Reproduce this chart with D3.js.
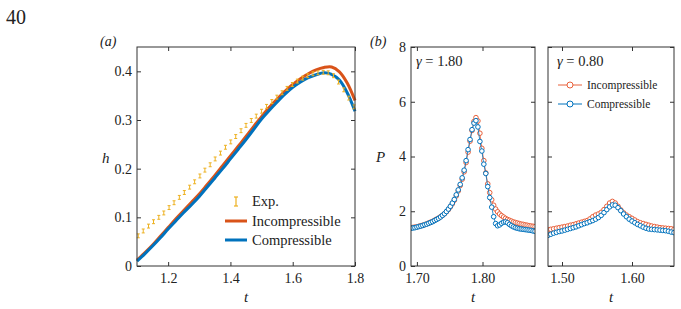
<!DOCTYPE html>
<html>
<head>
<meta charset="utf-8">
<script src="https://cdn.jsdelivr.net/npm/d3@7"></script>
<style>
  body { margin: 0; background: #fff; }
  svg, text { font-family: "Liberation Serif", "DejaVu Serif", serif; }
  text { fill: #222; }
</style>
</head>
<body>
<div id="container"></div>
<script>
let w = 681;
let h = 309;

// ---- panel (a) data: h(t)
let tLine = [1.10,1.125,1.15,1.175,1.20,1.225,1.25,1.275,1.30,1.325,1.35,1.375,1.40,1.425,1.45,1.475,1.50,1.525,1.55,1.575,1.60,1.625,1.65,1.675,1.70,1.725,1.75,1.775,1.80];
let hIncomp = [0.012,0.027,0.043,0.061,0.079,0.097,0.114,0.131,0.148,0.167,0.186,0.206,0.226,0.246,0.266,0.287,0.307,0.326,0.343,0.359,0.373,0.385,0.395,0.403,0.408,0.409,0.399,0.376,0.340];
let hComp = [0.010,0.025,0.041,0.058,0.076,0.093,0.110,0.126,0.143,0.162,0.181,0.200,0.220,0.240,0.260,0.281,0.302,0.320,0.337,0.353,0.367,0.378,0.387,0.393,0.397,0.394,0.382,0.356,0.318];
let tExp = [1.104,1.120,1.137,1.153,1.170,1.186,1.203,1.219,1.236,1.252,1.269,1.285,1.302,1.318,1.335,1.351,1.368,1.384,1.401,1.417,1.434,1.450,1.467,1.483,1.500,1.516,1.533,1.549,1.566,1.582,1.599,1.615,1.632,1.648,1.665,1.681,1.698,1.714,1.731,1.747,1.764,1.780,1.797];
let hExp = [0.062,0.072,0.082,0.091,0.100,0.109,0.120,0.130,0.141,0.151,0.162,0.173,0.185,0.197,0.208,0.220,0.232,0.244,0.255,0.266,0.278,0.289,0.299,0.308,0.318,0.328,0.338,0.347,0.356,0.365,0.373,0.380,0.386,0.391,0.395,0.397,0.398,0.397,0.391,0.378,0.362,0.345,0.327];
let expErr = 0.004;

// ---- panel (b) data: P(t), gamma = 1.80
let tB1 = [1.691,1.694,1.697,1.700,1.703,1.706,1.709,1.712,1.715,1.718,1.721,1.724,1.727,1.730,1.733,1.736,1.739,1.742,1.745,1.748,1.751,1.754,1.757,1.760,1.763,1.766,1.769,1.772,1.775,1.778,1.781,1.784,1.787,1.790,1.793,1.796,1.799,1.802,1.805,1.808,1.811,1.814,1.817,1.820,1.823,1.826,1.829,1.832,1.835,1.838,1.841,1.844,1.847,1.850,1.853,1.856,1.859,1.862,1.865,1.868,1.871,1.874,1.877,1.880];
let pIncompB1 = [1.40,1.41,1.42,1.43,1.45,1.47,1.49,1.51,1.54,1.57,1.60,1.63,1.67,1.71,1.75,1.80,1.85,1.91,1.98,2.06,2.16,2.27,2.40,2.56,2.74,2.94,3.17,3.44,3.78,4.16,4.56,4.95,5.28,5.42,5.30,4.85,4.30,3.85,3.40,3.00,2.68,2.42,2.22,2.08,1.98,1.90,1.84,1.79,1.74,1.70,1.67,1.64,1.61,1.59,1.57,1.55,1.53,1.52,1.50,1.49,1.47,1.46,1.45,1.44];
let pCompB1 = [1.38,1.39,1.40,1.42,1.44,1.46,1.48,1.51,1.53,1.56,1.59,1.62,1.66,1.70,1.74,1.79,1.85,1.91,1.99,2.08,2.18,2.30,2.43,2.60,2.78,2.98,3.22,3.50,3.85,4.25,4.62,4.98,5.22,5.31,5.08,4.55,4.20,3.72,3.38,2.90,2.50,2.15,1.80,1.55,1.47,1.50,1.56,1.60,1.61,1.58,1.52,1.47,1.43,1.40,1.38,1.36,1.35,1.34,1.33,1.32,1.31,1.30,1.28,1.27];

// ---- gamma = 0.80
let tB2 = [1.480,1.484,1.488,1.492,1.496,1.500,1.504,1.508,1.512,1.516,1.520,1.524,1.528,1.532,1.536,1.540,1.544,1.548,1.552,1.556,1.560,1.564,1.568,1.572,1.576,1.580,1.584,1.588,1.592,1.596,1.600,1.604,1.608,1.612,1.616,1.620,1.624,1.628,1.632,1.636,1.640,1.644,1.648,1.652,1.656,1.660];
let pIncompB2 = [1.32,1.34,1.36,1.38,1.40,1.42,1.44,1.46,1.49,1.51,1.54,1.57,1.60,1.63,1.66,1.72,1.80,1.86,1.90,1.96,2.06,2.18,2.30,2.36,2.30,2.18,2.05,1.94,1.86,1.80,1.74,1.68,1.62,1.58,1.55,1.52,1.49,1.46,1.44,1.42,1.40,1.39,1.38,1.37,1.36,1.34];
let pCompB2 = [1.12,1.16,1.20,1.23,1.26,1.28,1.31,1.34,1.37,1.40,1.43,1.47,1.51,1.55,1.58,1.62,1.66,1.71,1.77,1.85,1.95,2.06,2.16,2.23,2.22,2.13,2.02,1.90,1.80,1.71,1.64,1.58,1.52,1.47,1.42,1.38,1.35,1.34,1.33,1.32,1.31,1.30,1.29,1.27,1.24,1.22];

let red = "#d95319";
let blue = "#0072bd";
let yellow = "#edb120";
let redB = "#e8603a";
let serif = "Liberation Serif";

let viz = d3.select("#container").append("svg")
  .attr("width", w)
  .attr("height", h)
  .style("background-color", "white")
  .style("font-family", serif);

// draw box + inward ticks on all four sides
function frame(g, x, y, xTicks, yTicks, xFmt, yFmt) {
  let x0 = x.range()[0], x1 = x.range()[1];
  let y0 = y.range()[0], y1 = y.range()[1];
  let bottom = g.append("g").attr("transform", "translate(0," + y0 + ")")
    .call(d3.axisBottom(x).tickValues(xTicks).tickFormat(xFmt).tickSizeInner(-4).tickSizeOuter(0).tickPadding(7));
  let top = g.append("g").attr("transform", "translate(0," + y1 + ")")
    .call(d3.axisTop(x).tickValues(xTicks).tickFormat("").tickSizeInner(-4).tickSizeOuter(0));
  let left = g.append("g").attr("transform", "translate(" + x0 + ",0)")
    .call(d3.axisLeft(y).tickValues(yTicks).tickFormat(yFmt).tickSizeInner(-4).tickSizeOuter(0).tickPadding(5));
  let right = g.append("g").attr("transform", "translate(" + x1 + ",0)")
    .call(d3.axisRight(y).tickValues(yTicks).tickFormat("").tickSizeInner(-4).tickSizeOuter(0));
  [bottom, top, left, right].forEach(function (a) {
    a.attr("font-family", serif).attr("font-size", 14);
    a.select(".domain").remove();
    a.selectAll("line").attr("stroke", "#333");
    a.selectAll("text").attr("fill", "#222");
  });
  g.append("rect")
    .attr("x", x0).attr("y", y1)
    .attr("width", x1 - x0).attr("height", y0 - y1)
    .attr("fill", "none").attr("stroke", "#333").attr("stroke-width", 1);
}

function gammaLabel(g, x, y, val) {
  let t = g.append("text").attr("x", x).attr("y", y).style("font-size", "14.5px");
  t.append("tspan").style("font-style", "italic").text("γ");
  t.append("tspan").text(" = " + val);
}

// page number
viz.append("text").attr("x", 6).attr("y", 24).style("font-size", "20px").text("40");

// ================= panel (a)
let xA = d3.scaleLinear().domain([1.1, 1.8]).range([137, 355]);
let yA = d3.scaleLinear().domain([0, 0.45]).range([266, 47]);
let gA = viz.append("g");

let lineA = d3.line().x(function (d) { return xA(d[0]); }).y(function (d) { return yA(d[1]); }).curve(d3.curveCatmullRom);
gA.append("path").datum(tLine.map(function (t, i) { return [t, hIncomp[i]]; }))
  .attr("d", lineA).attr("fill", "none").attr("stroke", red).attr("stroke-width", 3);
gA.append("path").datum(tLine.map(function (t, i) { return [t, hComp[i]]; }))
  .attr("d", lineA).attr("fill", "none").attr("stroke", blue).attr("stroke-width", 3);

let expData = tExp.map(function (t, i) { return { t: t, h: hExp[i] }; });
let eb = gA.selectAll(".err").data(expData).enter().append("g").attr("class", "err");
eb.append("line")
  .attr("x1", function (d) { return xA(d.t); }).attr("x2", function (d) { return xA(d.t); })
  .attr("y1", function (d) { return yA(d.h - expErr); }).attr("y2", function (d) { return yA(d.h + expErr); })
  .attr("stroke", yellow).attr("stroke-width", 1);
[-1, 1].forEach(function (s) {
  eb.append("line")
    .attr("x1", function (d) { return xA(d.t) - 1.5; }).attr("x2", function (d) { return xA(d.t) + 1.5; })
    .attr("y1", function (d) { return yA(d.h + s * expErr); }).attr("y2", function (d) { return yA(d.h + s * expErr); })
    .attr("stroke", yellow).attr("stroke-width", 1);
});

frame(gA, xA, yA, [1.2, 1.4, 1.6, 1.8], [0, 0.1, 0.2, 0.3, 0.4], d3.format(".1f"),
  function (d) { return d === 0 ? "0" : d3.format(".1f")(d); });

gA.append("text").attr("x", 100).attr("y", 46).style("font-size", "14px").style("font-style", "italic").text("(a)");
gA.append("text").attr("x", 102).attr("y", 163).style("font-size", "15px").style("font-style", "italic").text("h");
gA.append("text").attr("x", xA(1.45)).attr("y", 302).attr("text-anchor", "middle").style("font-size", "15px").style("font-style", "italic").text("t");

// legend (a)
let lgA = gA.append("g");
lgA.append("line").attr("x1", 236).attr("x2", 236).attr("y1", 197).attr("y2", 206).attr("stroke", yellow).attr("stroke-width", 1.2);
lgA.append("line").attr("x1", 234).attr("x2", 238).attr("y1", 197).attr("y2", 197).attr("stroke", yellow).attr("stroke-width", 1.2);
lgA.append("line").attr("x1", 234).attr("x2", 238).attr("y1", 206).attr("y2", 206).attr("stroke", yellow).attr("stroke-width", 1.2);
lgA.append("line").attr("x1", 225).attr("x2", 247).attr("y1", 221).attr("y2", 221).attr("stroke", red).attr("stroke-width", 3);
lgA.append("line").attr("x1", 225).attr("x2", 247).attr("y1", 240).attr("y2", 240).attr("stroke", blue).attr("stroke-width", 3);
lgA.append("text").attr("x", 252).attr("y", 206).style("font-size", "14.5px").text("Exp.");
lgA.append("text").attr("x", 252).attr("y", 225.5).style("font-size", "14.5px").text("Incompressible");
lgA.append("text").attr("x", 252).attr("y", 245).style("font-size", "14.5px").text("Compressible");

// ================= panel (b)
let yB = d3.scaleLinear().domain([0, 8]).range([266, 47]);

function markerPanel(g, x, tArr, series, clipId) {
  let x0 = x.range()[0], x1 = x.range()[1];
  g.append("clipPath").attr("id", clipId).append("rect")
    .attr("x", x0).attr("y", 47).attr("width", x1 - x0).attr("height", 219);
  let inner = g.append("g").attr("clip-path", "url(#" + clipId + ")");
  let lineB = d3.line().x(function (d) { return x(d[0]); }).y(function (d) { return yB(d[1]); });
  series.forEach(function (s) {
    let pts = tArr.map(function (t, i) { return [t, s.values[i]]; });
    inner.append("path").datum(pts).attr("d", lineB)
      .attr("fill", "none").attr("stroke", s.color).attr("stroke-width", 0.8);
    inner.selectAll(".m" + s.key).data(pts).enter().append("circle")
      .attr("cx", function (d) { return x(d[0]); })
      .attr("cy", function (d) { return yB(d[1]); })
      .attr("r", 2.3)
      .attr("fill", "white").attr("stroke", s.color).attr("stroke-width", 1);
  });
}

let xB1 = d3.scaleLinear().domain([1.691, 1.88]).range([411, 535]);
let gB1 = viz.append("g");
markerPanel(gB1, xB1, tB1, [
  { key: "i", color: redB, values: pIncompB1 },
  { key: "c", color: blue, values: pCompB1 }
], "clipB1");
frame(gB1, xB1, yB, [1.70, 1.80], [0, 2, 4, 6, 8], d3.format(".2f"), d3.format("d"));
gB1.append("text").attr("x", 370).attr("y", 46).style("font-size", "14px").style("font-style", "italic").text("(b)");
gB1.append("text").attr("x", 376).attr("y", 162).style("font-size", "15px").style("font-style", "italic").text("P");
gB1.append("text").attr("x", (411 + 535) / 2).attr("y", 302).attr("text-anchor", "middle").style("font-size", "15px").style("font-style", "italic").text("t");
gammaLabel(gB1, 416, 66, "1.80");

let xB2 = d3.scaleLinear().domain([1.48, 1.66]).range([548, 674]);
let gB2 = viz.append("g");
markerPanel(gB2, xB2, tB2, [
  { key: "i", color: redB, values: pIncompB2 },
  { key: "c", color: blue, values: pCompB2 }
], "clipB2");
frame(gB2, xB2, yB, [1.50, 1.60], [0, 2, 4, 6, 8], d3.format(".2f"), "");
gB2.append("text").attr("x", (548 + 674) / 2).attr("y", 302).attr("text-anchor", "middle").style("font-size", "15px").style("font-style", "italic").text("t");
gammaLabel(gB2, 557, 66, "0.80");

// legend (b)
let lgB = [{ name: "Incompressible", color: redB, y: 85 }, { name: "Compressible", color: blue, y: 104 }];
lgB.forEach(function (d) {
  gB2.append("line").attr("x1", 558).attr("x2", 582).attr("y1", d.y).attr("y2", d.y).attr("stroke", d.color).attr("stroke-width", 1);
  gB2.append("circle").attr("cx", 570).attr("cy", d.y).attr("r", 3).attr("fill", "white").attr("stroke", d.color).attr("stroke-width", 1);
  gB2.append("text").attr("x", 587).attr("y", d.y + 4).style("font-size", "11.5px").text(d.name);
});
</script>
</body>
</html>
